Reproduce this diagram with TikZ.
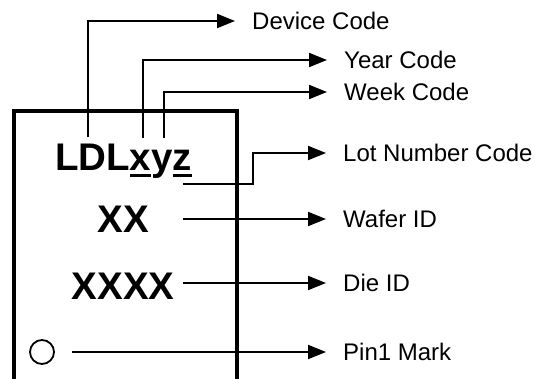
\documentclass[tikz,border=0pt]{standalone}
\usepackage{fontspec}
\setmainfont{Liberation Sans}
\usetikzlibrary{arrows.meta}
\newcommand\ulbar[1]{\setbox0\hbox{#1}\rlap{\rule[-6.5pt]{\wd0}{3pt}}\box0}
\begin{document}
\begin{tikzpicture}[x=1pt,y=-1pt,
  conn/.style={line width=2pt},
  arr/.style={conn,-{Triangle[length=18pt,width=14pt]}},
  lbl/.style={anchor=west,inner sep=0pt,font=\fontsize{24}{26}\selectfont},
  chiptext/.style={anchor=base,inner sep=0pt,font=\fontsize{38.5}{40}\selectfont\bfseries}]
\useasboundingbox (0,0) rectangle (535,379);
% package outline (open at bottom)
\draw[line width=4.2pt] (14,390) -- (14,111) -- (237,111) -- (237,390);
% chip markings
\node[chiptext] (code) at (123.5,171) {LDL\ulbar{x}y\ulbar{z}};
\node[chiptext] (wafer) at (123,233) {XX};
\node[chiptext] (die) at (123,299) {XXXX};
\node[circle,draw,line width=1.8pt,minimum size=24pt,inner sep=0pt] (pin) at (42,352) {};
% labels
\node[lbl] (ldev) at (252,21) {Device Code};
\node[lbl] (lyear) at (344,60) {Year Code};
\node[lbl] (lweek) at (344,92) {Week Code};
\node[lbl] (llot) at (343,153) {Lot Number Code};
\node[lbl] (lwafer) at (343,219) {Wafer ID};
\node[lbl] (ldie) at (343,283) {Die ID};
\node[lbl] (lpin) at (343,352) {Pin1 Mark};
% connector start points
\coordinate (sdev) at (88,137);
\coordinate (syear) at (143,138);
\coordinate (sweek) at (164,138);
\coordinate (slot) at (183,184);
\coordinate (blot) at (253,184);
\coordinate (swafer) at (183,219);
\coordinate (sdie) at (183,283);
\coordinate (spin) at (72,352);
% connectors
\draw[arr] (sdev) |- ([xshift=-17pt]ldev.west);
\draw[arr] (syear) |- ([xshift=-17pt]lyear.west);
\draw[arr] (sweek) |- ([xshift=-17pt]lweek.west);
\draw[arr] (slot) -- (blot) |- ([xshift=-17pt]llot.west);
\draw[arr] (swafer) -- ([xshift=-17pt]lwafer.west);
\draw[arr] (sdie) -- ([xshift=-17pt]ldie.west);
\draw[arr] (spin) -- ([xshift=-17pt]lpin.west);
\end{tikzpicture}
\end{document}
